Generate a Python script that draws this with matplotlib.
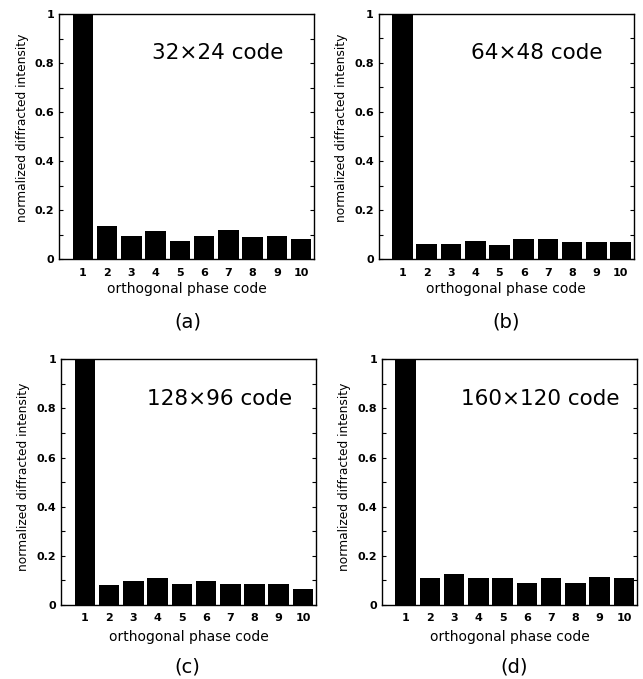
import matplotlib.pyplot as plt
from matplotlib.ticker import MultipleLocator

plt.rcParams['font.family'] = ['DejaVu Sans']

codes = [1, 2, 3, 4, 5, 6, 7, 8, 9, 10]
vals_a = [1.0, 0.138, 0.097, 0.115, 0.074, 0.097, 0.120, 0.091, 0.097, 0.083]
vals_b = [1.0, 0.061, 0.061, 0.073, 0.060, 0.083, 0.083, 0.072, 0.071, 0.069]
vals_c = [1.0, 0.081, 0.097, 0.109, 0.084, 0.097, 0.084, 0.084, 0.084, 0.066]
vals_d = [1.0, 0.109, 0.126, 0.109, 0.110, 0.090, 0.109, 0.090, 0.112, 0.110]
titles = ["32\u00d724 code", "64\u00d748 code", "128\u00d796 code", "160\u00d7120 code"]
letters = ["(a)", "(b)", "(c)", "(d)"]

fig = plt.figure(figsize=(6.43, 6.79), dpi=100)

# axes boxes in figure fractions
boxes = [[0.092, 0.618, 0.397, 0.361],
         [0.589, 0.618, 0.397, 0.362],
         [0.095, 0.109, 0.397, 0.362],
         [0.594, 0.109, 0.397, 0.362]]
letter_pos = [(0.292, 0.526), (0.787, 0.526), (0.292, 0.018), (0.799, 0.018)]
ylab_y = [0.537, 0.537, 0.52, 0.52]
xlab_pad = [3, 3, 5, 5]
all_vals = [vals_a, vals_b, vals_c, vals_d]

for i in range(4):
    ax = fig.add_axes(boxes[i])
    ax.bar(codes, all_vals[i], width=0.85, color='black')
    ax.set_xlim(0.02, 10.55)
    ax.set_ylim(0, 1)
    ax.set_xticks(codes)
    ax.set_yticks([0, 0.2, 0.4, 0.6, 0.8, 1])
    ax.set_yticklabels(["0", "0.2", "0.4", "0.6", "0.8", "1"])
    ax.yaxis.set_minor_locator(MultipleLocator(0.1))
    ax.tick_params(which='both', direction='in', top=True, right=True,
                   labelsize=8, length=3, width=0.8)
    ax.tick_params(axis='x', length=0, pad=6)
    for lab in ax.get_xticklabels() + ax.get_yticklabels():
        lab.set_fontweight('bold')
    for s in ax.spines.values():
        s.set_linewidth(1.0)
    ax.set_xlabel("orthogonal phase code", fontsize=10, labelpad=xlab_pad[i])
    ax.set_ylabel("normalized diffracted intensity", fontsize=8.8)
    ax.yaxis.set_label_coords(-0.12, ylab_y[i])
    ax.text(0.62, 0.84, titles[i], transform=ax.transAxes, ha='center',
            va='center', fontsize=15.5)
    fig.text(letter_pos[i][0], letter_pos[i][1], letters[i], ha='center',
             va='center', fontsize=14)

fig.savefig("out.png", dpi=100)
